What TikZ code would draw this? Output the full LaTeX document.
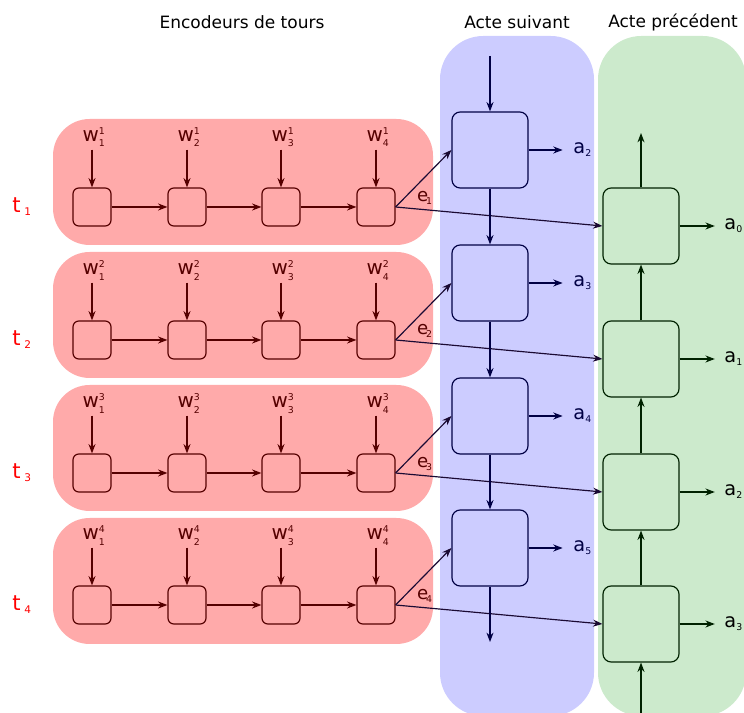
\documentclass[tikz,border=0pt]{standalone}
\usepackage{fontspec}
\usepackage{amsmath}
\setmainfont{DejaVu Sans}
\usetikzlibrary{arrows.meta}

\definecolor{redpanel}{HTML}{FFAAAA}
\definecolor{redline}{HTML}{550000}
\definecolor{bluepanel}{HTML}{CCCCFF}
\definecolor{blueline}{HTML}{000044}
\definecolor{greenpanel}{HTML}{CCEACC}
\definecolor{greenline}{HTML}{002200}
\definecolor{elink}{HTML}{1A0A33}
\definecolor{tred}{HTML}{FF0000}

\newcommand{\sm}[1]{\text{\fontsize{8}{9}\selectfont #1}}
\newcommand{\wl}[2]{w$^{\sm{#2}}_{\sm{#1}}$}

\begin{document}
\begin{tikzpicture}[x=0.03cm,y=-0.03cm]

        \useasboundingbox (0,0) rectangle (744,713);

        % panneaux
        \fill[redpanel,rounded corners=1.1cm] (53,119) rectangle (433,245);
        \fill[redpanel,rounded corners=1.1cm] (53,252) rectangle (433,378);
        \fill[redpanel,rounded corners=1.1cm] (53,385) rectangle (433,511);
        \fill[redpanel,rounded corners=1.1cm] (53,518) rectangle (433,644);
        \fill[bluepanel,rounded corners=1.3cm] (440,36) rectangle (594,716);
        \fill[greenpanel,rounded corners=1.3cm] (598,36) rectangle (746,716);

        \begin{scope}[every node/.style={font=\fontsize{14.5}{17}\selectfont}]
          \node (titre1) at (242,22) {Encodeurs de tours};
          \node (titre2) at (517,22) {Acte suivant};
          \node (titre3) at (673,22) {Acte précédent};
        \end{scope}

        \begin{scope}[every node/.style={text=tred,font=\fontsize{18}{20}\selectfont}]
          \node (t1) at (22,207) {t$_{\;\text{\fontsize{9}{9}\selectfont 1}}$};
          \node (t2) at (22,340) {t$_{\;\text{\fontsize{9}{9}\selectfont 2}}$};
          \node (t3) at (22,473) {t$_{\;\text{\fontsize{9}{9}\selectfont 3}}$};
          \node (t4) at (22,605) {t$_{\;\text{\fontsize{9}{9}\selectfont 4}}$};
        \end{scope}

        \begin{scope}[every node/.style={draw=redline,line width=1pt,rounded corners=5pt,minimum size=1.14cm}]
          \node (r11) at (92,207)  {};
          \node (r12) at (187,207) {};
          \node (r13) at (281,207) {};
          \node (r14) at (376,207) {};
          \node (r21) at (92,340)  {};
          \node (r22) at (187,340) {};
          \node (r23) at (281,340) {};
          \node (r24) at (376,340) {};
          \node (r31) at (92,473)  {};
          \node (r32) at (187,473) {};
          \node (r33) at (281,473) {};
          \node (r34) at (376,473) {};
          \node (r41) at (92,605)  {};
          \node (r42) at (187,605) {};
          \node (r43) at (281,605) {};
          \node (r44) at (376,605) {};
        \end{scope}

        \begin{scope}[every node/.style={text=redline,anchor=base,inner sep=2pt,font=\fontsize{17}{19}\selectfont}]
          \node (w11) at (94,142)  {\wl{1}{1}};
          \node (w12) at (189,142) {\wl{2}{1}};
          \node (w13) at (283,142) {\wl{3}{1}};
          \node (w14) at (378,142) {\wl{4}{1}};
          \node (w21) at (94,275)  {\wl{1}{2}};
          \node (w22) at (189,275) {\wl{2}{2}};
          \node (w23) at (283,275) {\wl{3}{2}};
          \node (w24) at (378,275) {\wl{4}{2}};
          \node (w31) at (94,408)  {\wl{1}{3}};
          \node (w32) at (189,408) {\wl{2}{3}};
          \node (w33) at (283,408) {\wl{3}{3}};
          \node (w34) at (378,408) {\wl{4}{3}};
          \node (w41) at (94,540)  {\wl{1}{4}};
          \node (w42) at (189,540) {\wl{2}{4}};
          \node (w43) at (283,540) {\wl{3}{4}};
          \node (w44) at (378,540) {\wl{4}{4}};
        \end{scope}

        \begin{scope}[every node/.style={draw=blueline,line width=1pt,rounded corners=7pt,minimum size=2.28cm}]
          \node (b1) at (490,150) {};
          \node (b2) at (490,283) {};
          \node (b3) at (490,416) {};
          \node (b4) at (490,548) {};
        \end{scope}

        \begin{scope}[every node/.style={draw=greenline,line width=1pt,rounded corners=7pt,minimum size=2.28cm}]
          \node (g1) at (641,226) {};
          \node (g2) at (641,359) {};
          \node (g3) at (641,492) {};
          \node (g4) at (641,624) {};
        \end{scope}

        \coordinate (bin)  at (490,56);
        \coordinate (bout) at (490,642);
        \coordinate (gout) at (641,133);
        \coordinate (gin)  at (641,716);

        \begin{scope}[every node/.style={anchor=west,inner sep=1pt,font=\fontsize{16.5}{18}\selectfont}]
          \node[text=blueline] (ab2) at (572,150) {a$_{\sm{2}}$};
          \node[text=blueline] (ab3) at (572,283) {a$_{\sm{3}}$};
          \node[text=blueline] (ab4) at (572,416) {a$_{\sm{4}}$};
          \node[text=blueline] (ab5) at (572,548) {a$_{\sm{5}}$};
          \node (ag0) at (723,226) {a$_{\sm{0}}$};
          \node (ag1) at (723,359) {a$_{\sm{1}}$};
          \node (ag2) at (723,492) {a$_{\sm{2}}$};
          \node (ag3) at (723,624) {a$_{\sm{3}}$};
        \end{scope}

        \begin{scope}[every node/.style={text=redline,inner sep=0pt,font=\fontsize{15.5}{17}\selectfont}]
          \node (e1) at (425,198) {e$_{\!\sm{1}}$};
          \node (e2) at (425,331) {e$_{\!\sm{2}}$};
          \node (e3) at (425,464) {e$_{\!\sm{3}}$};
          \node (e4) at (425,596) {e$_{\!\sm{4}}$};
        \end{scope}

        \begin{scope}[line width=1pt,>={Stealth[length=8pt,width=6pt]}]

          \begin{scope}[every edge/.style={draw=redline,->}]
            \path (r11 |- w11.south) edge (r11);
            \path (r12 |- w12.south) edge (r12);
            \path (r13 |- w13.south) edge (r13);
            \path (r14 |- w14.south) edge (r14);
            \path (r21 |- w21.south) edge (r21);
            \path (r22 |- w22.south) edge (r22);
            \path (r23 |- w23.south) edge (r23);
            \path (r24 |- w24.south) edge (r24);
            \path (r31 |- w31.south) edge (r31);
            \path (r32 |- w32.south) edge (r32);
            \path (r33 |- w33.south) edge (r33);
            \path (r34 |- w34.south) edge (r34);
            \path (r41 |- w41.south) edge (r41);
            \path (r42 |- w42.south) edge (r42);
            \path (r43 |- w43.south) edge (r43);
            \path (r44 |- w44.south) edge (r44);
            \path (r11) edge (r12);
            \path (r12) edge (r13);
            \path (r13) edge (r14);
            \path (r21) edge (r22);
            \path (r22) edge (r23);
            \path (r23) edge (r24);
            \path (r31) edge (r32);
            \path (r32) edge (r33);
            \path (r33) edge (r34);
            \path (r41) edge (r42);
            \path (r42) edge (r43);
            \path (r43) edge (r44);
          \end{scope}

          \begin{scope}[every edge/.style={draw=elink,->}]
            \path (r14.east) edge (b1.west);
            \path (r24.east) edge (b2.west);
            \path (r34.east) edge (b3.west);
            \path (r44.east) edge (b4.west);
            \path (r14.east) edge (g1.west);
            \path (r24.east) edge (g2.west);
            \path (r34.east) edge (g3.west);
            \path (r44.east) edge (g4.west);
          \end{scope}

          \begin{scope}[every edge/.style={draw=blueline,->}]
            \path (bin) edge (b1);
            \path (b1) edge (b2);
            \path (b2) edge (b3);
            \path (b3) edge (b4);
            \path (b4) edge (bout);
            \path (b1) edge[shorten >=8pt] (b1 -| ab2.west);
            \path (b2) edge[shorten >=8pt] (b2 -| ab3.west);
            \path (b3) edge[shorten >=8pt] (b3 -| ab4.west);
            \path (b4) edge[shorten >=8pt] (b4 -| ab5.west);
          \end{scope}

          \begin{scope}[every edge/.style={draw=greenline,->}]
            \path (gin) edge (g4);
            \path (g4) edge (g3);
            \path (g3) edge (g2);
            \path (g2) edge (g1);
            \path (g1) edge (gout);
            \path (g1) edge[shorten >=7pt] (g1 -| ag0.west);
            \path (g2) edge[shorten >=7pt] (g2 -| ag1.west);
            \path (g3) edge[shorten >=7pt] (g3 -| ag2.west);
            \path (g4) edge[shorten >=7pt] (g4 -| ag3.west);
          \end{scope}
        \end{scope}

      \end{tikzpicture}
\end{document}
